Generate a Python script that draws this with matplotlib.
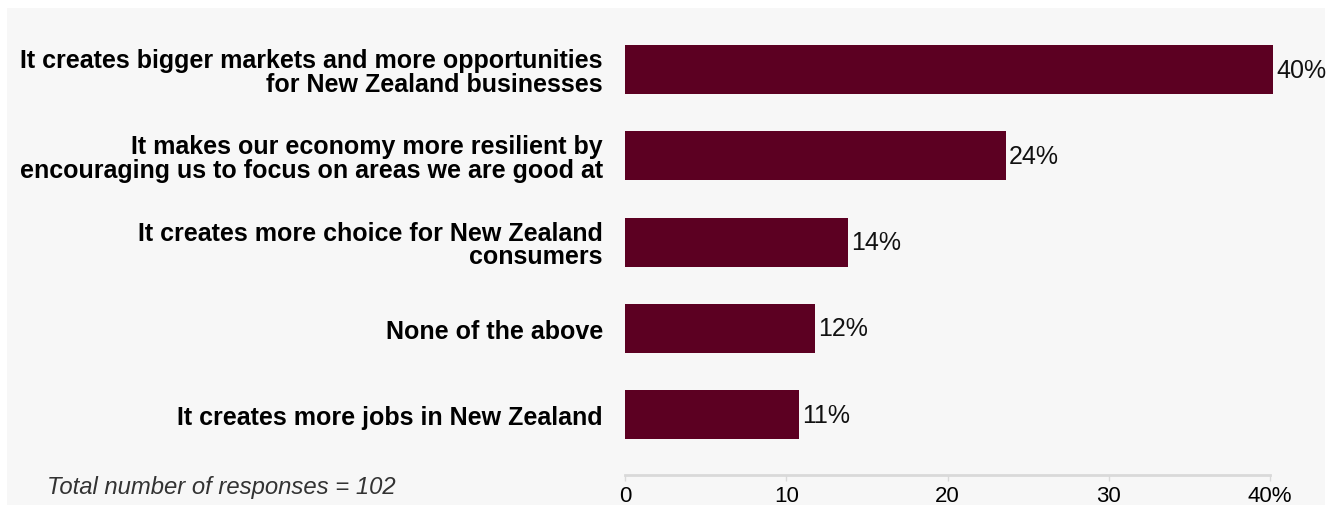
import matplotlib.pyplot as plt
from matplotlib.patches import Rectangle

# Survey results: reasons given, share of responses (%)
categories = [
    "It creates bigger markets and more opportunities\nfor New Zealand businesses",
    "It makes our economy more resilient by\nencouraging us to focus on areas we are good at",
    "It creates more choice for New Zealand\nconsumers",
    "None of the above",
    "It creates more jobs in New Zealand",
]
values = [40.2, 23.6, 13.8, 11.8, 10.8]
labels = ["40%", "24%", "14%", "12%", "11%"]
ticks = [0, 10, 20, 30, 40]
tick_labels = ["0", "10", "20", "30", "40%"]

bg = "#f7f7f7"
bar_color = "#5c0022"

plt.rcParams['font.family'] = ['Liberation Sans', 'DejaVu Sans']

W, H = 1341, 506
fig = plt.figure(figsize=(W / 100, H / 100), dpi=100)
fig.patch.set_facecolor("white")

# grey panel behind everything
fig.patches.append(Rectangle((7 / W, 0), (1325 - 7) / W, (506 - 9) / H,
                             transform=fig.transFigure, facecolor=bg,
                             edgecolor="none", zorder=-10))

ax = fig.add_axes([625 / W, (H - 476) / H, (1270 - 625) / W, (476 - 9) / H])
ax.set_facecolor(bg)
ax.patch.set_alpha(0)

y = list(range(len(categories)))
bars = ax.barh(y, values, height=0.57, color=bar_color)
for b in bars:
    b.set_clip_on(False)
for yi, v, lab in zip(y, values, labels):
    ax.text(v + 0.2, yi, lab, va="center", ha="left", fontsize=18, color="#111111")

ax.set_xlim(0, 40)
ax.set_ylim(4.70, -0.715)
ax.set_yticks(y)
ax.set_yticklabels(categories, fontsize=18, fontweight="bold", linespacing=0.98)
ax.tick_params(axis="y", length=0, pad=16)
ax.set_xticks(ticks)
ax.set_xticklabels(tick_labels, fontsize=16)
ax.tick_params(axis="x", length=4, width=1, color="#d9d9d9", pad=3)

for s in ["top", "right", "left"]:
    ax.spines[s].set_visible(False)
ax.spines["bottom"].set_color("#d9d9d9")
ax.spines["bottom"].set_linewidth(2)

fig.text(47 / W, 1 - 488 / H, "Total number of responses = 102", fontsize=17.2,
         fontstyle="italic", color="#333333", va="center", ha="left")

fig.savefig("out.png", dpi=100, facecolor=fig.get_facecolor())
